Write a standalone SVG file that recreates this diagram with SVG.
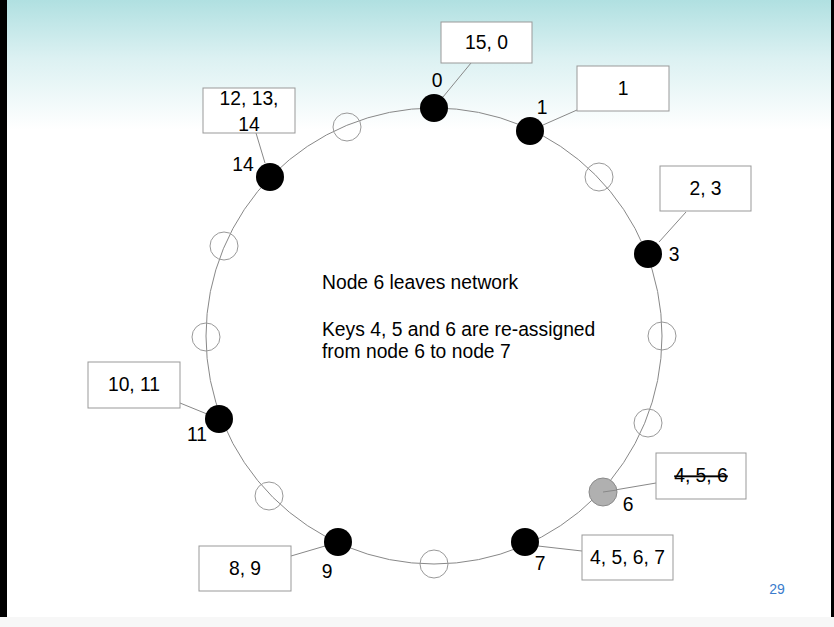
<svg xmlns="http://www.w3.org/2000/svg" width="834" height="627" viewBox="0 0 834 627">
<defs>
<linearGradient id="bg" x1="0" y1="0" x2="0" y2="1">
<stop offset="0" stop-color="#b0e0e1"/>
<stop offset="0.45" stop-color="#dcf1f2"/>
<stop offset="1" stop-color="#ffffff"/>
</linearGradient>
<style>
.t{font-family:"Liberation Sans",Arial,sans-serif;font-size:19.3px;fill:#000}
.box{fill:#fff;stroke:#999;stroke-width:1}
.ln{stroke:#888;stroke-width:1;fill:none}
.empty{fill:none;stroke:#999;stroke-width:1}
.full{fill:#000}
</style>
</defs>
<rect x="0" y="0" width="834" height="627" fill="#fff"/>
<rect x="0" y="0" width="834" height="130" fill="url(#bg)"/>
<rect x="0" y="617" width="834" height="10" fill="#f7f7f7"/>
<rect x="0" y="0" width="7" height="617" fill="#000"/>
<rect x="831" y="0" width="3" height="617" fill="#000"/>

<circle cx="434" cy="336" r="228" class="ln" stroke="#999"/>

<g id="connectors">
<line x1="443" y1="97" x2="471" y2="63" class="ln"/>
<line x1="543" y1="125" x2="577" y2="110" class="ln"/>
<line x1="659" y1="242" x2="686" y2="212" class="ln"/>
<line x1="603" y1="492" x2="656" y2="483" class="ln"/>
<line x1="538" y1="546" x2="582" y2="551" class="ln"/>
<line x1="325" y1="546" x2="291" y2="556" class="ln"/>
<line x1="207" y1="414" x2="180" y2="403" class="ln"/>
<line x1="265" y1="163" x2="256" y2="133" class="ln"/>
</g>

<g id="empty-slots">
<circle cx="347" cy="127" r="14" class="empty"/>
<circle cx="599" cy="177" r="14" class="empty"/>
<circle cx="662" cy="336" r="14" class="empty"/>
<circle cx="648" cy="423" r="14" class="empty"/>
<circle cx="434" cy="564" r="14" class="empty"/>
<circle cx="269" cy="496" r="14" class="empty"/>
<circle cx="206" cy="337" r="14" class="empty"/>
<circle cx="224" cy="246" r="14" class="empty"/>
</g>

<g id="node0">
<circle cx="434" cy="108" r="14" class="full"/>
<text x="437" y="87" class="t" text-anchor="middle">0</text>
<rect x="441" y="22" width="91" height="41" class="box"/>
<text x="486.5" y="49" class="t" text-anchor="middle">15, 0</text>
</g>
<g id="node1">
<circle cx="530" cy="131" r="14" class="full"/>
<text x="542" y="114" class="t" text-anchor="middle">1</text>
<rect x="577" y="66" width="92" height="45" class="box"/>
<text x="623" y="95" class="t" text-anchor="middle">1</text>
</g>
<g id="node3">
<circle cx="648" cy="254" r="14" class="full"/>
<text x="674" y="261" class="t" text-anchor="middle">3</text>
<rect x="660" y="166" width="91" height="45" class="box"/>
<text x="705.5" y="195" class="t" text-anchor="middle">2, 3</text>
</g>
<g id="node6">
<circle cx="603" cy="492" r="14" fill="#b0b0b0" stroke="#8a8a8a" stroke-width="1"/>
<line x1="603" y1="492" x2="617" y2="490" class="ln"/>
<text x="628" y="511" class="t" text-anchor="middle">6</text>
<rect x="656" y="453" width="90" height="46" class="box"/>
<text x="701" y="482" class="t" text-anchor="middle" text-decoration="line-through">4, 5, 6</text>
</g>
<g id="node7">
<circle cx="525" cy="542" r="14" class="full"/>
<text x="540" y="570" class="t" text-anchor="middle">7</text>
<rect x="582" y="535" width="91" height="45" class="box"/>
<text x="627.5" y="564" class="t" text-anchor="middle">4, 5, 6, 7</text>
</g>
<g id="node9">
<circle cx="338" cy="542" r="14" class="full"/>
<text x="327" y="578" class="t" text-anchor="middle">9</text>
<rect x="199" y="546" width="92" height="45" class="box"/>
<text x="245" y="575" class="t" text-anchor="middle">8, 9</text>
</g>
<g id="node11">
<circle cx="219" cy="419" r="14" class="full"/>
<text x="197" y="441" class="t" text-anchor="middle">11</text>
<rect x="88" y="362" width="92" height="46" class="box"/>
<text x="134" y="391" class="t" text-anchor="middle">10, 11</text>
</g>
<g id="node14">
<circle cx="270" cy="177" r="14" class="full"/>
<text x="243" y="171" class="t" text-anchor="middle">14</text>
<rect x="203" y="88" width="92" height="45" class="box"/>
<text x="249" y="105" class="t" text-anchor="middle">12, 13,</text>
<text x="249" y="131" class="t" text-anchor="middle">14</text>
</g>

<g id="caption">
<text x="322" y="289" class="t">Node 6 leaves network</text>
<text x="322" y="336" class="t">Keys 4, 5 and 6 are re-assigned</text>
<text x="322" y="358" class="t">from node 6 to node 7</text>
</g>
<text x="777" y="594" font-family="'Liberation Sans',Arial,sans-serif" font-size="14" fill="#3b7ccc" text-anchor="middle">29</text>
</svg>
